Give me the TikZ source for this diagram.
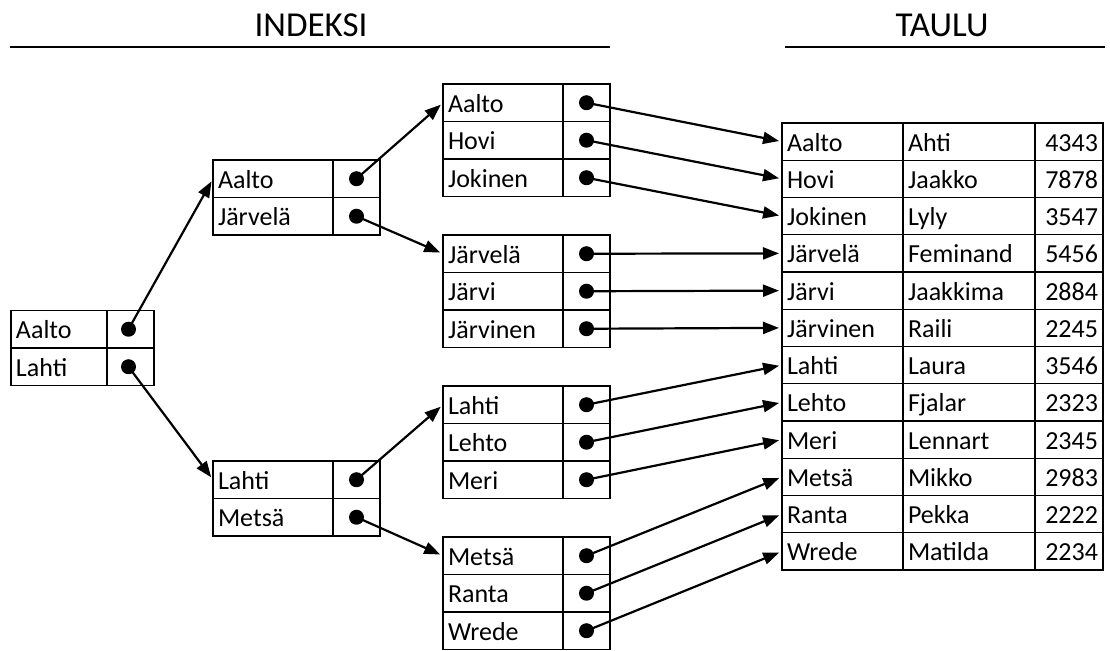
\documentclass[tikz,border=0pt]{standalone}
\usepackage{fontspec}
\setmainfont{Carlito}
\usetikzlibrary{arrows.meta, positioning}

\begin{document}
\begin{tikzpicture}[
    x=0.5pt, y=-0.5pt,
    cell/.style={draw, line width=0.7pt, outer sep=0pt, inner xsep=2.5pt, inner ysep=0pt, minimum height=18.75pt,
        text height=11pt, text depth=1.5pt, font=\fontsize{13}{15}\selectfont},
    key/.style={cell, text width=55pt, align=left, anchor=north west},
    rkey/.style={key, text width=43pt},
    ptr/.style={cell, minimum width=23.5pt},
    tkey/.style={key, minimum height=18.625pt, text width=55.5pt},
    tname/.style={cell, minimum height=18.625pt, text width=61pt, align=left},
    tnum/.style={cell, minimum height=18.625pt, text width=29pt, align=right},
    dot/.style={circle, fill, inner sep=0pt, minimum size=7.5pt},
    arrow/.style={-{Triangle[length=8pt, width=6pt]}, line width=1.1pt, shorten >=1.5pt},
    title/.style={font=\fontsize{17.5}{21}\selectfont},
    rule/.style={line width=1.2pt}
]
\useasboundingbox (0,0) rectangle (1110,651);

% Titles
\node[title] (indeksi) at (311,25) {INDEKSI};
\node[title] (taulu) at (942,25) {TAULU};
\draw[rule] (10,47) -- (610,47);
\draw[rule] (785,47) -- (1105,47);

% Table
\foreach \k/\n/\v [count=\i] in {Aalto/Ahti/4343, Hovi/Jaakko/7878, Jokinen/Lyly/3547,
    Järvelä/Feminand/5456, Järvi/Jaakkima/2884, Järvinen/Raili/2245, Lahti/Laura/3546,
    Lehto/Fjalar/2323, Meri/Lennart/2345, Metsä/Mikko/2983, Ranta/Pekka/2222, Wrede/Matilda/2234} {
    \pgfmathsetmacro\yy{123+37.25*(\i-1)}
    \node[tkey] (t\i) at (782,\yy) {\k};
    \node[tname, right=0pt of t\i] (tn\i) {\n};
    \node[tnum, right=0pt of tn\i] (tv\i) {\v};
}

% Leaf level of the index
\foreach \k [count=\i] in {Aalto, Hovi, Jokinen, Järvelä, Järvi, Järvinen,
    Lahti, Lehto, Meri, Metsä, Ranta, Wrede} {
    \pgfmathsetmacro\yy{84+151*floor((\i-1)/3)+37.5*mod(\i-1,3)}
    \node[key] (c\i) at (443,\yy) {\k};
    \node[ptr, right=0pt of c\i] (cp\i) {};
    \node[dot] (cd\i) at (cp\i) {};
    \draw[arrow] (cd\i.center) -- (t\i.west);
}

% Middle level
\foreach \k/\yy [count=\i] in {Aalto/160, Järvelä/197.5, Lahti/461, Metsä/498.5} {
    \node[key] (b\i) at (213,\yy) {\k};
    \node[ptr, right=0pt of b\i] (bp\i) {};
    \node[dot] (bd\i) at (bp\i) {};
}

% Root
\foreach \k/\yy [count=\i] in {Aalto/310.5, Lahti/348} {
    \node[rkey] (a\i) at (11,\yy) {\k};
    \node[ptr, right=0pt of a\i] (ap\i) {};
    \node[dot, xshift=-1pt] (ad\i) at (ap\i) {};
}

% Pointers
\draw[arrow] (ad1.center) -- (b1.west);
\draw[arrow] (ad2.center) -- (b3.west);
\draw[arrow] (bd1.center) -- (c1.west);
\draw[arrow] (bd2.center) -- (c4.west);
\draw[arrow] (bd3.center) -- (c7.west);
\draw[arrow] (bd4.center) -- (c10.west);

\end{tikzpicture}
\end{document}
